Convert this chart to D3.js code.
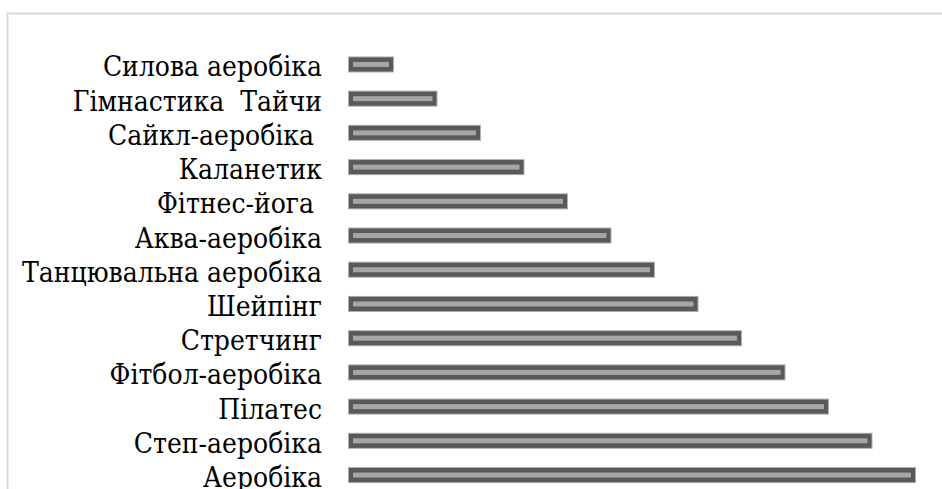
<!DOCTYPE html>
<html><head><meta charset="utf-8">
<script src="https://cdn.jsdelivr.net/npm/d3@7"></script>
<style>html,body{margin:0;padding:0;background:#fff;overflow:hidden}</style>
</head><body>
<svg id="c" width="942" height="489"></svg>
<script>
const categories = ["Силова аеробіка","Гімнастика\u00a0 Тайчи","Сайкл-аеробіка\u00a0","Каланетик","Фітнес-йога\u00a0","Аква-аеробіка","Танцювальна аеробіка","Шейпінг","Стретчинг","Фітбол-аеробіка","Пілатес","Степ-аеробіка","Аеробіка"];
const values = [1,2,3,4,5,6,7,8,9,10,11,12,13];

const svg = d3.select("#c");
svg.append("rect").attr("x",7.5).attr("y",13.5).attr("width",1000).attr("height",600)
  .attr("fill","none").attr("stroke","#d9d9d9").attr("stroke-width",2);

const x = d3.scaleLinear().domain([0,13]).range([350.5,916]);
const y = d3.scaleBand().domain(categories).range([47.5,492]).paddingInner(0.53).paddingOuter(0.26);

const g = svg.append("g");
const bars = g.selectAll("g.bar").data(categories).join("g").attr("class","bar");
bars.append("rect").attr("x",x(0)-2.5).attr("y",d=>y(d))
  .attr("width",(d,i)=>x(values[i])-x(0)+2.5).attr("height",y.bandwidth())
  .attr("fill","#b0b0b0");
bars.append("rect").attr("x",x(0)-1.5).attr("y",d=>y(d)+1)
  .attr("width",(d,i)=>x(values[i])-x(0)+0.5).attr("height",y.bandwidth()-2)
  .attr("fill","#595959");
bars.append("rect").attr("x",x(0)+2.5).attr("y",d=>y(d)+y.bandwidth()/2-2.5)
  .attr("width",(d,i)=>x(values[i])-x(0)-7.5).attr("height",5)
  .attr("fill","#a6a6a6");

const labels = g.selectAll("text.lab").data(categories).join("text").attr("class","lab")
  .attr("x",322).attr("y",d=>y(d)+y.bandwidth()/2+12)
  .attr("text-anchor","end")
  .style("font-family","'DejaVu Serif Condensed', 'DejaVu Serif', serif")
  .style("font-stretch","condensed")
  .style("font-size","28px")
  .text(d=>d);

// fit the longest label to the reference width (~300px)
const longest = labels.filter(d=>d==="Танцювальна аеробіка").node();
const len = longest.getComputedTextLength();
let fs = 28*300/len;
fs = Math.max(22, Math.min(32, fs));
labels.style("font-size", fs+"px");
</script>
</body></html>
